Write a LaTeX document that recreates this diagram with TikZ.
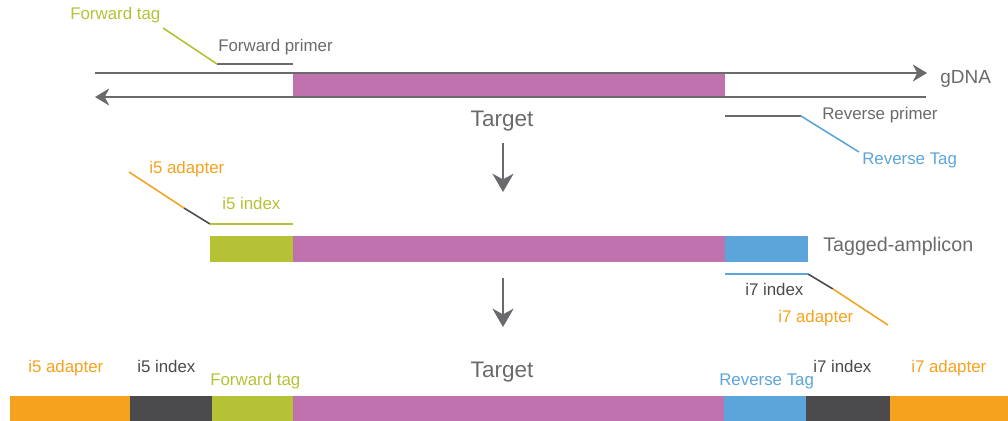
\documentclass[tikz,border=0pt]{standalone}
\usepackage{fontspec}
\setmainfont{Liberation Sans}
\usetikzlibrary{arrows.meta}
\definecolor{tgtpink}{HTML}{C072AE}
\definecolor{tagblue}{HTML}{5CA5DA}
\definecolor{taggreen}{HTML}{B6C235}
\definecolor{adorange}{HTML}{F5A21F}
\definecolor{idxdark}{HTML}{4B4B4E}
\definecolor{dnagrey}{HTML}{6A6A6C}
\begin{document}
\begin{tikzpicture}[x=0.025cm,y=-0.025cm,
    lbl/.style={font=\fontsize{12}{14}\selectfont,inner sep=0pt,anchor=mid west},
    big/.style={font=\fontsize{16}{18}\selectfont,inner sep=0pt,text=dnagrey},
    strand/.style={draw=dnagrey,line width=1.4pt},
    thin/.style={line width=1.1pt},
    pcrarrow/.style={draw=dnagrey,line width=1.5pt,-{Stealth[length=13pt,width=15pt,inset=4pt]}}]
\useasboundingbox (0,0) rectangle (1008,421);
% gDNA with target
\fill[tgtpink] (293,73) rectangle (725,97);
\coordinate (t1) at (95,73);  \coordinate (t2) at (927,73);
\coordinate (b1) at (95,97);  \coordinate (b2) at (926,97);
\draw[strand,-{Stealth[length=10pt,width=12pt,inset=3pt]}] (t1)--(t2);
\draw[strand,-{Stealth[length=10pt,width=12pt,inset=3pt]}] (b2)--(b1);
\node[lbl,text=dnagrey,font=\fontsize{13.5}{15}\selectfont] (gdna) at (940,80) {gDNA};
\node[big] (tgt1) at (502,121) {Target};
% primers
\coordinate (fp1) at (217,64); \coordinate (fp2) at (293,64);
\coordinate (ft) at (163,28);
\draw[thin,dnagrey] (fp1)--(fp2);
\draw[thin,taggreen] (ft)--(fp1);
\node[lbl,text=taggreen] (ftag) at (70,16) {Forward tag};
\node[lbl,text=dnagrey] (fprim) at (218,48) {Forward primer};
\coordinate (rp1) at (725,116); \coordinate (rp2) at (801,116);
\coordinate (rt) at (859,152);
\draw[thin,dnagrey] (rp1)--(rp2);
\draw[thin,tagblue] (rp2)--(rt);
\node[lbl,text=dnagrey] (rprim) at (822,116) {Reverse primer};
\node[lbl,text=tagblue] (rtag) at (862,161) {Reverse Tag};
% first step
\coordinate (s1a) at (503,143); \coordinate (s1b) at (503,192);
\draw[pcrarrow] (s1a)--(s1b);
% tagged amplicon
\fill[taggreen] (210,236) rectangle (293,262);
\fill[tgtpink] (293,236) rectangle (725,262);
\fill[tagblue] (725,236) rectangle (808,262);
\node[lbl,text=dnagrey,font=\fontsize{14}{16}\selectfont] (amp) at (823,248) {Tagged-amplicon};
\coordinate (i5a) at (129,172); \coordinate (i5b) at (184,208);
\coordinate (i5c) at (210,224); \coordinate (i5d) at (293,224);
\draw[thin,adorange] (i5a)--(i5b);
\draw[thin,idxdark] (i5b)--(i5c);
\draw[thin,taggreen] (i5c)--(i5d);
\node[lbl,text=adorange] (i5ad) at (149,170) {i5 adapter};
\node[lbl,text=taggreen] (i5ix) at (222,206) {i5 index};
\coordinate (i7a) at (725,274); \coordinate (i7b) at (808,274);
\coordinate (i7c) at (833,289); \coordinate (i7d) at (888,325);
\draw[thin,tagblue] (i7a)--(i7b);
\draw[thin,idxdark] (i7b)--(i7c);
\draw[thin,adorange] (i7c)--(i7d);
\node[lbl,text=idxdark] (i7ix) at (745,292) {i7 index};
\node[lbl,text=adorange] (i7ad) at (778,319) {i7 adapter};
% second step
\coordinate (s2a) at (503,278); \coordinate (s2b) at (503,327);
\draw[pcrarrow] (s2a)--(s2b);
% final library fragment
\fill[adorange] (10,396) rectangle (130,421);
\fill[idxdark] (130,396) rectangle (212,421);
\fill[taggreen] (212,396) rectangle (293,421);
\fill[tgtpink] (293,396) rectangle (724,421);
\fill[tagblue] (724,396) rectangle (806,421);
\fill[idxdark] (806,396) rectangle (890,421);
\fill[adorange] (890,396) rectangle (1008,421);
\node[lbl,text=adorange] (l1) at (28,369) {i5 adapter};
\node[lbl,text=idxdark] (l2) at (137,369) {i5 index};
\node[lbl,text=taggreen] (l3) at (210,382) {Forward tag};
\node[big] (tgt2) at (502,372) {Target};
\node[lbl,text=tagblue] (l4) at (719,382) {Reverse Tag};
\node[lbl,text=idxdark] (l5) at (813,369) {i7 index};
\node[lbl,text=adorange] (l6) at (911,369) {i7 adapter};
\end{tikzpicture}
\end{document}
